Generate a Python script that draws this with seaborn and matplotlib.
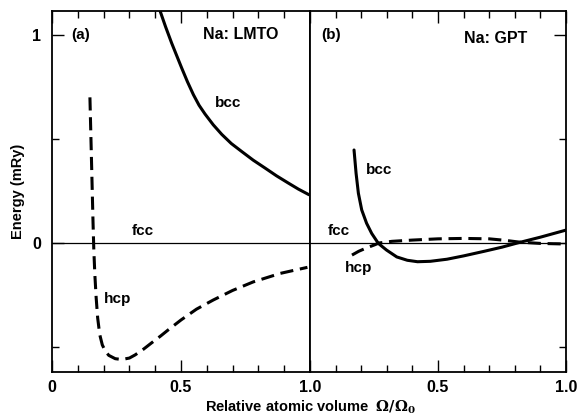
import matplotlib
matplotlib.use("Agg")
import matplotlib.pyplot as plt
import numpy as np
import pandas as pd
import seaborn as sns

sns.set_theme(style="ticks")
plt.rcParams["font.family"] = ["Liberation Sans", "DejaVu Sans"]
plt.rcParams["font.weight"] = "bold"
plt.rcParams["mathtext.fontset"] = "dejavuserif"

# ---------------- data ----------------
# Panel (a): Na LMTO
lmto_bcc_x = [0.419, 0.44, 0.464, 0.503, 0.525, 0.548, 0.57, 0.593, 0.625, 0.658,
              0.695, 0.735, 0.78, 0.826, 0.87, 0.916, 0.955, 0.996]
lmto_bcc_y = [1.115, 1.04, 0.96, 0.84, 0.775, 0.713, 0.662, 0.62, 0.568, 0.522,
              0.478, 0.44, 0.398, 0.36, 0.323, 0.288, 0.259, 0.232]

lmto_hcp_x = [0.147, 0.150, 0.153, 0.156, 0.159, 0.162, 0.166, 0.171, 0.177, 0.185,
              0.195, 0.207, 0.22, 0.245, 0.27, 0.30, 0.322, 0.355, 0.386, 0.42,
              0.45, 0.50, 0.56, 0.625, 0.70, 0.78, 0.885, 0.99]
lmto_hcp_y = [0.70, 0.55, 0.40, 0.25, 0.10, -0.03, -0.15, -0.26, -0.36, -0.44,
              -0.49, -0.52, -0.54, -0.556, -0.56, -0.553, -0.538, -0.51, -0.48, -0.448,
              -0.418, -0.37, -0.318, -0.274, -0.228, -0.187, -0.146, -0.117]

# Panel (b): Na GPT
gpt_bcc_x = [0.172, 0.180, 0.189, 0.202, 0.221, 0.241, 0.267, 0.299, 0.339, 0.38, 0.42,
             0.47, 0.535, 0.60, 0.68, 0.75, 0.81, 0.90, 1.0]
gpt_bcc_y = [0.447, 0.335, 0.239, 0.159, 0.095, 0.046, -0.002, -0.034, -0.067, -0.083, -0.09,
             -0.088, -0.078, -0.062, -0.04, -0.02, 0.0, 0.028, 0.062]

gpt_hcp_x = [0.164, 0.19, 0.22, 0.25, 0.27, 0.32, 0.40, 0.50, 0.60, 0.70, 0.76, 0.82, 0.90, 1.0]
gpt_hcp_y = [-0.058, -0.04, -0.024, -0.01, 0.0, 0.008, 0.014, 0.02, 0.022, 0.02, 0.013, 0.004, -0.002, -0.005]

# fcc reference (zero of energy)
fcc_x = [0.0, 1.0]
fcc_y = [0.0, 0.0]

x_tick_vals = [0.0, 0.5, 1.0]
x_tick_labels_a = ["0", "0.5", "1.0"]
x_tick_labels_b = ["", "0.5", "1.0"]
y_tick_vals = [0, 1]
y_tick_labels = ["0", "1"]

# ---------------- figure ----------------
W, H = 578, 419
fig = plt.figure(figsize=(W / 100, H / 100), dpi=100)
axL = fig.add_axes([52 / W, 47 / H, 258 / W, 361 / H])
axR = fig.add_axes([310 / W, 47 / H, 256 / W, 361 / H])

lw = 2.2
dash = (0, (4.3, 2.2))


def df(x, y):
    return pd.DataFrame({"x": x, "y": y})


for ax, bcc, hcp in [
    (axL, (lmto_bcc_x, lmto_bcc_y), (lmto_hcp_x, lmto_hcp_y)),
    (axR, (gpt_bcc_x, gpt_bcc_y), (gpt_hcp_x, gpt_hcp_y)),
]:
    sns.lineplot(data=df(fcc_x, fcc_y), x="x", y="y", ax=ax, color="black", lw=0.9,
                 sort=False, estimator=None)
    sns.lineplot(data=df(*bcc), x="x", y="y", ax=ax, color="black", lw=lw,
                 sort=False, estimator=None, solid_joinstyle="round")
    sns.lineplot(data=df(*hcp), x="x", y="y", ax=ax, color="black", lw=lw,
                 linestyle=dash, sort=False, estimator=None, dash_joinstyle="round")
    ax.set_xlim(0, 1.0)
    ax.set_ylim(-0.62, 1.115)
    ax.set_xlabel("")
    ax.set_ylabel("")
    for s in ax.spines.values():
        s.set_linewidth(1.3)
        s.set_color("black")
    ax.set_xticks(x_tick_vals)
    ax.set_xticks(np.arange(1, 10) / 10, minor=True)
    ax.set_yticks(y_tick_vals)
    ax.set_yticks([-0.5, 0.5], minor=True)
    ax.tick_params(axis="both", which="both", direction="in", top=True, bottom=True,
                   color="black", width=1.0, labelsize=11.5, labelcolor="black")
    ax.tick_params(axis="both", which="major", length=8.5, pad=6)
    ax.tick_params(axis="both", which="minor", length=5)

axL.set_xticklabels(x_tick_labels_a, fontweight="bold")
axR.set_xticklabels(x_tick_labels_b, fontweight="bold")
axL.set_yticklabels(y_tick_labels, fontweight="bold")
axL.tick_params(axis="y", which="both", left=True, right=False, pad=8)
axR.tick_params(axis="y", which="both", left=False, right=True, labelleft=False, labelright=False)

tk = dict(fontsize=11, fontweight="bold", color="black", va="center", ha="left")
axL.text(0.075, 1.0, "(a)", **tk)
axL.text(0.585, 1.0, "Na: LMTO", **{**tk, "fontsize": 11.5})
axL.text(0.63, 0.673, "bcc", **tk)
axL.text(0.31, 0.058, "fcc", **tk)
axL.text(0.20, -0.27, "hcp", **tk)

axR.text(0.045, 1.0, "(b)", **tk)
axR.text(0.60, 0.985, "Na: GPT", **{**tk, "fontsize": 11.5})
axR.text(0.22, 0.35, "bcc", **tk)
axR.text(0.07, 0.058, "fcc", **tk)
axR.text(0.137, -0.12, "hcp", **tk)

fig.text(310 / W, 1 - 407 / H, r"Relative atomic volume  $\Omega/\Omega_0$", ha="center",
         va="center", fontsize=10.5, fontweight="bold", color="black")
fig.text(18 / W, 1 - 191 / H, "Energy (mRy)", rotation=90, ha="center", va="center",
         fontsize=10.5, fontweight="bold", color="black")

fig.savefig("out.png", dpi=100, facecolor="white")
